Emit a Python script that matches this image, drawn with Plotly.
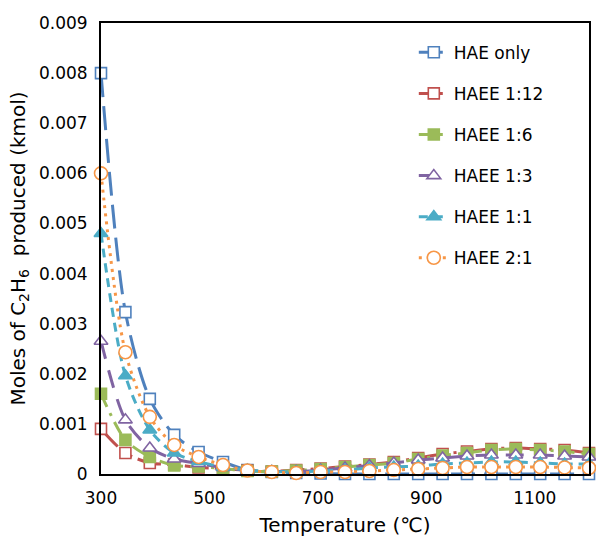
import plotly.graph_objects as go

temps = [300, 345, 390, 435, 480, 525, 570, 615, 660, 705, 750, 795, 840, 885, 930, 975, 1020, 1065, 1110, 1155, 1200]

hae_only = [0.0080, 0.00323, 0.0015, 0.00078, 0.00044, 0.00024, 0.00008, 0.00004, 0.00002, 0.00001, 0.0, 0.0, 0.0, 0.0, 0.0, 0.0, 0.0, 0.0, 0.0, 0.0, 0.0]
haee_1_12 = [0.0009, 0.00042, 0.00022, 0.00019, 0.00013, 0.00011, 0.00007, 0.00005, 0.00008, 0.00011, 0.00015, 0.00019, 0.00024, 0.00032, 0.0004, 0.00045, 0.0005, 0.00052, 0.0005, 0.00048, 0.00042]
haee_1_6 = [0.0016, 0.00068, 0.00034, 0.00017, 0.00015, 0.00011, 0.00006, 0.00005, 0.00007, 0.0001, 0.00014, 0.00018, 0.00022, 0.0003, 0.00037, 0.00042, 0.00048, 0.0005, 0.00048, 0.00045, 0.0004]
haee_1_3 = [0.00265, 0.00108, 0.00052, 0.0003, 0.00021, 0.00013, 0.00007, 0.00005, 0.00005, 0.00008, 0.00012, 0.00017, 0.00022, 0.00028, 0.00032, 0.00036, 0.00038, 0.00038, 0.00038, 0.00036, 0.00034]
haee_1_1 = [0.0048, 0.00196, 0.00088, 0.00042, 0.00025, 0.00014, 0.00008, 0.00005, 0.00004, 0.00006, 0.00008, 0.00012, 0.00014, 0.00016, 0.0002, 0.00022, 0.00024, 0.00024, 0.00022, 0.0002, 0.0002]
haee_2_1 = [0.0060, 0.00243, 0.00114, 0.00058, 0.00034, 0.00018, 0.00007, 0.00004, 0.00002, 0.00004, 0.00004, 0.00006, 0.00008, 0.0001, 0.00012, 0.00014, 0.00014, 0.00014, 0.00014, 0.00013, 0.00012]

names = ["HAE only", "HAEE 1:12", "HAEE 1:6", "HAEE 1:3", "HAEE 1:1", "HAEE 2:1"]
series = [hae_only, haee_1_12, haee_1_6, haee_1_3, haee_1_1, haee_2_1]
colors = ["#4F81BD", "#C0504D", "#9BBB59", "#8064A2", "#4BACC6", "#F79646"]
dashes = ["24px,9px", "24px,6px,3px,6px,3px,6px", "14px,7px,3px,7px", "18px,12px", "9px,6px", "3px,5px"]
symbols = ["square", "square", "square", "triangle-up", "triangle-up", "circle"]
filled = [False, False, True, False, True, False]
sizes = [11, 11, 11, 12, 12, 13]

fig = go.Figure()
for i, (nm, ys) in enumerate(zip(names, series)):
    c = colors[i]
    fig.add_trace(go.Scatter(
        x=temps, y=ys, name=nm, mode="lines+markers",
        legendgroup=nm,
        line=dict(color=c, width=3, dash=dashes[i], shape="spline", smoothing=0.8),
        marker=dict(symbol=symbols[i], size=sizes[i],
                    color=c if filled[i] else "white",
                    line=dict(color=c, width=1.6)),
        cliponaxis=False,
    ))

font_family = "'DejaVu Sans', sans-serif"
fig.update_layout(
    width=596, height=537,
    margin=dict(l=101, r=5, t=23, b=63),
    paper_bgcolor="white", plot_bgcolor="white",
    font=dict(family=font_family, size=17, color="#000000"),
    showlegend=True,
    legend=dict(x=0.641, y=0.974, xanchor="left", yanchor="top",
                traceorder="grouped", tracegroupgap=16,
                bgcolor="rgba(0,0,0,0)", font=dict(size=17)),
    xaxis=dict(range=[300, 1200], tickvals=[300, 500, 700, 900, 1100],
               showgrid=False, zeroline=False, showline=True, mirror=True,
               linecolor="black", linewidth=2, ticks="", ticklabelstandoff=8,
               automargin=False,
               title=dict(text="Temperature (℃)", standoff=14)),
    yaxis=dict(range=[0, 0.009],
               tickvals=[0, 0.001, 0.002, 0.003, 0.004, 0.005, 0.006, 0.007, 0.008, 0.009],
               ticktext=["0", "0.001", "0.002", "0.003", "0.004", "0.005", "0.006", "0.007", "0.008", "0.009"],
               showgrid=False, zeroline=False, showline=True, mirror=True,
               linecolor="black", linewidth=2, ticks="", ticklabelstandoff=8,
               title=dict(text="Moles of C<sub>2</sub>H<sub>6</sub>  produced (kmol)", standoff=8)),
)

fig.write_html("out.html")
